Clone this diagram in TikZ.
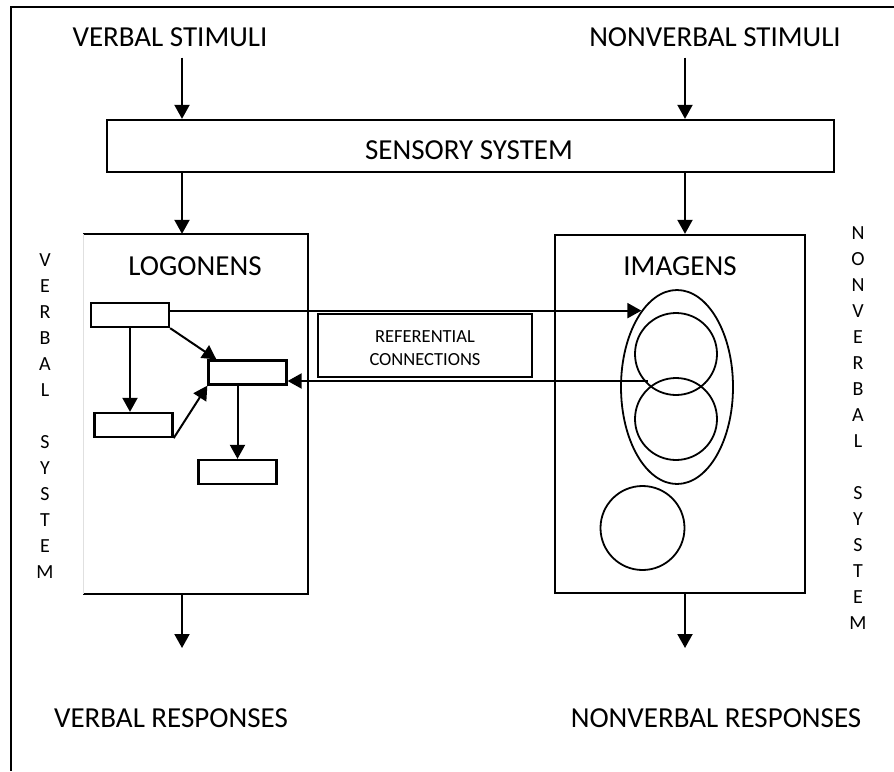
\documentclass[tikz,border=0pt]{standalone}
\usepackage{fontspec}
\setmainfont{Carlito}
\usetikzlibrary{arrows.meta,shapes.geometric}

\begin{document}
\begin{tikzpicture}[x=1pt,y=-1pt,
  line width=2pt,
  big/.style={font=\fontsize{29}{35}\selectfont, inner sep=0pt},
  stim/.style={big, inner sep=10pt},
  col/.style={font=\fontsize{20}{26}\selectfont, align=center, inner sep=0pt},
  bigbox/.style={draw, line width=2.3pt, inner sep=0pt},
  smallbox/.style={draw, line width=2.3pt, minimum width=78pt, minimum height=24pt, inner sep=0pt},
  arr/.style={line width=2pt, -{Triangle[width=15pt,length=14pt]}},
  ring/.style={draw, line width=1.8pt, circle, minimum size=82pt, inner sep=0pt},
]
\useasboundingbox (0,0) rectangle (894,771);

% outer frame (only top and left edges fall inside the page)
\draw[line width=2.3pt] (894,7) -- (11,7) -- (11,771);

% stimuli and responses
\node[stim] (vs) at (170,37) {VERBAL STIMULI};
\node[stim] (ns) at (715,37) {NONVERBAL STIMULI};
\node[big] (vr) at (171,718) {VERBAL RESPONSES};
\node[big] (nr) at (716,718) {NONVERBAL RESPONSES};

% sensory system
\node[bigbox, minimum width=727pt, minimum height=52pt] (sens) at (470.5,146) {};
\node[big] (senslbl) at (469,150) {SENSORY SYSTEM};

% the two subsystems
\node[minimum width=223pt, minimum height=358pt, inner sep=0pt, outer sep=1.15pt] (logo) at (195.5,414) {};
\draw[line width=2.3pt] (logo.north west) -- (logo.north east) -- (logo.south east) -- (logo.south west);
\draw[line width=0.6pt, black!12] (logo.north west) -- (logo.south west);
\node[bigbox, minimum width=250pt, minimum height=358pt] (imag) at (680,414) {};
\node[big] (logot) at (195,266) {LOGONENS};
\node[big] (imagt) at (680,266) {IMAGENS};

% side captions
\node[col] (vsys) at (45,416) {V\\E\\R\\B\\A\\L\\[26pt]S\\Y\\S\\T\\E\\M};
\node[col] (nsys) at (858,428) {N\\O\\N\\V\\E\\R\\B\\A\\L\\[26pt]S\\Y\\S\\T\\E\\M};

% logogen units
\node[smallbox] (b1) at (130,315) {};
\node[smallbox] (b2) at (247.5,372.5) {};
\node[smallbox] (b3) at (133.5,425) {};
\node[smallbox] (b4) at (237.5,472) {};

% imagen units
\node[draw, line width=1.8pt, ellipse, minimum width=112pt, minimum height=194pt, inner sep=0pt] (ell) at (677,387) {};
\node[ring] (c1) at (676,354) {};
\node[ring] (c2) at (676,419) {};
\node[ring, minimum size=84pt] (c3) at (642.5,528) {};

% referential connections
\node[bigbox, minimum width=214pt, minimum height=63pt] (ref) at (425,345.5) {};
\node[font=\fontsize{18.5}{23}\selectfont, align=center, inner sep=0pt] (reft) at (425,348.5) {REFERENTIAL\\CONNECTIONS};

% column positions of the main flow
\coordinate (vcol) at (182,0);
\coordinate (ncol) at (685,0);
\coordinate (vend) at (182,648);
\coordinate (nend) at (685,648);
\coordinate (refsrc) at (648,381);

% main flow
\draw[arr] (vs.south -| vcol) -- (sens.north -| vcol);
\draw[arr] (ns.south -| ncol) -- (sens.north -| ncol);
\draw[arr] (sens.south -| vcol) -- (logo.north -| vcol);
\draw[arr] (sens.south -| ncol) -- (imag.north -| ncol);
\draw[arr] (logo.south -| vcol) -- (vend);
\draw[arr] (imag.south -| ncol) -- (nend);

% links between logogens
\draw[arr] (b1.south) -- (b1.south |- b3.north);
\draw[arr] (b1.south east) -- ([xshift=9pt]b2.north west);
\draw[arr] (b3.south east) -- (b2.south west);
\draw[arr] (b4.north |- b2.south) -- (b4.north);

% referential links
\draw[arr] (b1.east |- ell.115) -- (ell.115);
\draw[arr] (refsrc) -- (b2.east |- refsrc);
\end{tikzpicture}
\end{document}
